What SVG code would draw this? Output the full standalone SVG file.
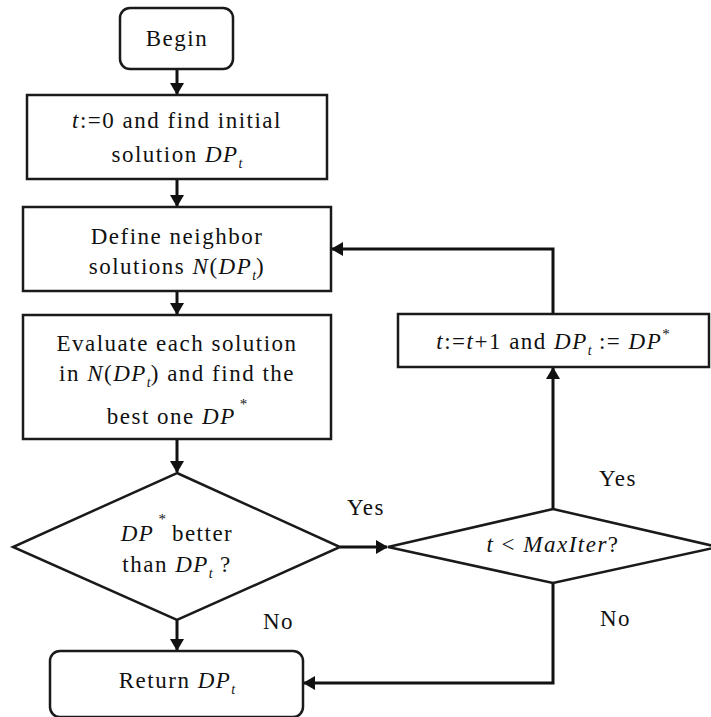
<svg xmlns="http://www.w3.org/2000/svg" width="711" height="717" viewBox="0 0 711 717">
  <style>
    .shape { fill: #ffffff; stroke: #1a1a1a; stroke-width: 2.5; }
    .conn { fill: none; stroke: #111111; stroke-width: 3; }
    text { font-family: "Liberation Serif", "Times New Roman", serif; font-size: 23px; fill: #111111; letter-spacing: 1.5px; }
    .c { text-anchor: middle; }
    .i { font-style: italic; }
    .sub { font-size: 14px; font-style: italic; letter-spacing: 0; }
    .sup { font-size: 15px; letter-spacing: 0; }
  </style>
  <defs>
    <marker id="arrow" viewBox="0 0 12 14" refX="11" refY="7" markerWidth="12" markerHeight="14" markerUnits="userSpaceOnUse" orient="auto">
      <path d="M0,0 L12,7 L0,14 z" fill="#111111"/>
    </marker>
  </defs>

  <g id="connectors">
    <line class="conn" x1="177" y1="69" x2="177" y2="94" marker-end="url(#arrow)"/>
    <line class="conn" x1="177" y1="179" x2="177" y2="206" marker-end="url(#arrow)"/>
    <line class="conn" x1="177" y1="291" x2="177" y2="314" marker-end="url(#arrow)"/>
    <line class="conn" x1="177" y1="439" x2="177" y2="472" marker-end="url(#arrow)"/>
    <line class="conn" x1="340" y1="547" x2="387" y2="547" marker-end="url(#arrow)"/>
    <line class="conn" x1="177" y1="620" x2="177" y2="650" marker-end="url(#arrow)"/>
    <line class="conn" x1="553" y1="509" x2="553" y2="368" marker-end="url(#arrow)"/>
    <polyline class="conn" points="553,314 553,249 332,249" marker-end="url(#arrow)"/>
    <polyline class="conn" points="553,583 553,683 304,683" marker-end="url(#arrow)"/>
  </g>

  <g id="begin">
    <rect class="shape" x="120" y="8" width="113" height="61" rx="10"/>
    <text class="c" x="177" y="46">Begin</text>
  </g>

  <g id="init">
    <rect class="shape" x="27" y="95" width="300" height="84"/>
    <text class="c" x="177" y="128"><tspan class="i">t</tspan>:=0 and find initial</text>
    <text class="c" x="177" y="162">solution <tspan class="i">DP</tspan><tspan class="sub" dy="6">t</tspan></text>
  </g>

  <g id="neighbors">
    <rect class="shape" x="23" y="207" width="308" height="84"/>
    <text class="c" x="177" y="244">Define neighbor</text>
    <text class="c" x="177" y="274">solutions <tspan class="i">N</tspan>(<tspan class="i">DP</tspan><tspan class="sub" dy="6">t</tspan><tspan dy="-6">)</tspan></text>
  </g>

  <g id="evaluate">
    <rect class="shape" x="23" y="315" width="308" height="124"/>
    <text class="c" x="177" y="351">Evaluate each solution</text>
    <text class="c" x="177" y="381">in <tspan class="i">N</tspan>(<tspan class="i">DP</tspan><tspan class="sub" dy="6">t</tspan><tspan dy="-6">) and find the</tspan></text>
    <text class="c" x="177" y="424">best one <tspan class="i">DP</tspan><tspan class="sup" dx="4" dy="-15">*</tspan></text>
  </g>

  <g id="better">
    <polygon class="shape" points="177,473 340,547 177,620 13,547"/>
    <text class="c" x="177" y="541"><tspan class="i">DP</tspan><tspan class="sup" dx="4" dy="-17">*</tspan><tspan dx="6" dy="17">better</tspan></text>
    <text class="c" x="177" y="572">than <tspan class="i">DP</tspan><tspan class="sub" dy="6">t</tspan><tspan dy="-6"> ?</tspan></text>
  </g>

  <g id="maxiter">
    <polygon class="shape" points="553,509 718,547 553,583 388,547"/>
    <text class="c" x="553" y="552"><tspan class="i">t</tspan> &lt; <tspan class="i">MaxIter</tspan>?</text>
  </g>

  <g id="update">
    <rect class="shape" x="398" y="314" width="311" height="53"/>
    <text class="c" x="553" y="349"><tspan class="i">t</tspan>:=<tspan class="i">t</tspan>+1 and <tspan class="i">DP</tspan><tspan class="sub" dy="6">t</tspan><tspan dy="-6"> := </tspan><tspan class="i">DP</tspan><tspan class="sup" dy="-10">*</tspan></text>
  </g>

  <g id="return">
    <rect class="shape" x="50" y="651" width="253" height="66" rx="10"/>
    <text class="c" x="177" y="688">Return <tspan class="i">DP</tspan><tspan class="sub" dy="6">t</tspan></text>
  </g>

  <g id="labels">
    <text x="347" y="515">Yes</text>
    <text x="599" y="486">Yes</text>
    <text x="263" y="629">No</text>
    <text x="600" y="626">No</text>
  </g>
</svg>
